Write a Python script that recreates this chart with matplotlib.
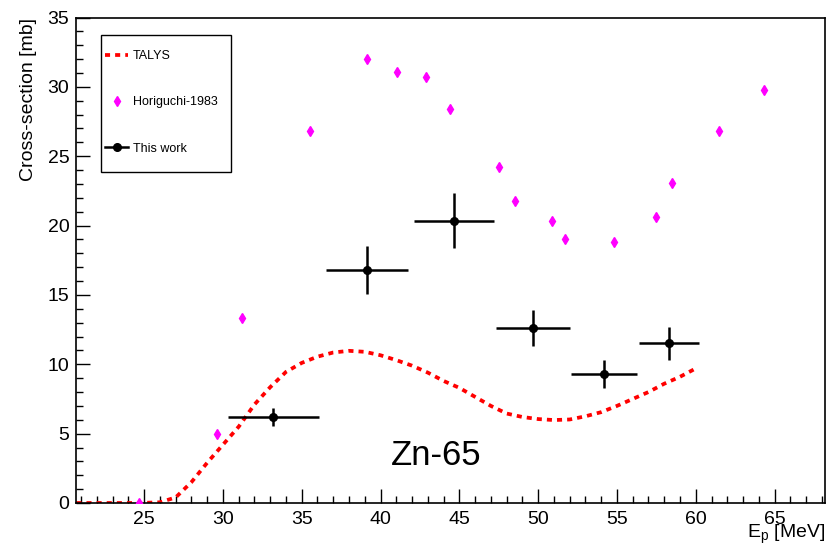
import matplotlib.pyplot as plt
from matplotlib.lines import Line2D
from matplotlib.patches import Rectangle
from matplotlib.ticker import MultipleLocator

plt.rcParams["font.family"] = ["Liberation Sans", "DejaVu Sans"]

# TALYS calculation
talys_e = [20.7, 24.7, 26.0, 27.0, 28.0, 29.0, 30.0, 31.0, 32.0, 33.0, 34.0,
           35.0, 36.0, 37.0, 38.0, 39.0, 40.0, 41.0, 42.0, 43.0, 44.0, 45.0,
           46.0, 47.0, 48.0, 49.0, 50.0, 51.0, 52.0, 53.0, 54.0, 55.0, 56.0,
           57.0, 58.0, 59.0, 60.0]
talys_xs = [0.0, 0.0, 0.05, 0.4, 1.5, 2.9, 4.2, 5.5, 7.1, 8.35, 9.45,
            10.1, 10.55, 10.85, 10.97, 10.9, 10.65, 10.3, 9.9, 9.4, 8.8, 8.3,
            7.65, 7.0, 6.45, 6.2, 6.05, 5.98, 6.02, 6.25, 6.55, 7.0, 7.5,
            8.0, 8.6, 9.1, 9.7]

# Horiguchi-1983
hori_e = [24.7, 29.6, 31.2, 35.5, 39.15, 41.05, 42.9, 44.4, 47.5, 48.5,
          50.9, 51.7, 54.8, 57.5, 58.5, 61.5, 64.3]
hori_xs = [0.0, 4.98, 13.35, 26.8, 32.0, 31.1, 30.7, 28.4, 24.2, 21.8,
           20.3, 19.0, 18.8, 20.6, 23.1, 26.8, 29.8]

# This work
work_e = [33.2, 39.15, 44.67, 49.65, 54.2, 58.3]
work_e_err = [2.9, 2.6, 2.55, 2.35, 2.1, 1.9]
work_xs = [6.2, 16.8, 20.35, 12.6, 9.3, 11.5]
work_xs_err = [0.65, 1.7, 2.0, 1.3, 1.0, 1.2]

fig = plt.figure(figsize=(8.28, 5.49), dpi=100)
ax = fig.add_axes([0.0922, 0.0838, 0.9042, 0.8843])

talys_line, = ax.plot(talys_e, talys_xs, color="#ff0000", lw=2.7,
                      linestyle=(0, (1.35, 1.35)), zorder=2)
hori_pts, = ax.plot(hori_e, hori_xs, linestyle="none", marker="d", ms=5.5,
                    color="#ff00ff", mec="#ff00ff", zorder=3)
ax.errorbar(work_e, work_xs, xerr=work_e_err, yerr=work_xs_err, fmt="o",
            color="black", ms=5.5, elinewidth=1.8, capsize=0, lw=1.8, zorder=4)

ax.text(43.5, 3.45, "Zn-65", fontsize=25, ha="center", va="center")

ax.set_xlim(20.7, 68.2)
ax.set_ylim(0, 35)
ax.xaxis.set_major_locator(MultipleLocator(5))
ax.xaxis.set_minor_locator(MultipleLocator(1))
ax.yaxis.set_major_locator(MultipleLocator(5))
ax.yaxis.set_minor_locator(MultipleLocator(1))
ax.tick_params(which="both", direction="in", top=False, right=False,
               labelsize=14, width=1)
ax.tick_params(which="major", length=10)
ax.tick_params(which="minor", length=5)
ax.tick_params(axis="x", pad=6)
ax.tick_params(axis="y", pad=5)
for sp in ax.spines.values():
    sp.set_linewidth(1.2)

ax.set_xlabel("E$_\\mathregular{p}$ [MeV]", fontsize=14, loc="right", labelpad=-4)
ax.set_ylabel("Cross-section [mb]", fontsize=14, loc="top", labelpad=8)

# legend frame drawn by hand, entries placed inside it
ax.add_patch(Rectangle((0.033, 0.6818), 0.1736, 0.2822, transform=ax.transAxes,
                       fill=False, edgecolor="black", lw=1.0, zorder=5))
work_handle = Line2D([], [], color="black", marker="o", ms=5.5, lw=1.8)
ax.legend([talys_line, hori_pts, work_handle],
          ["TALYS", "Horiguchi-1983", "This work"],
          loc="upper left", bbox_to_anchor=(0.0383, 0.933), fontsize=9,
          frameon=False, labelspacing=2.75, handlelength=1.85,
          handletextpad=0.4, borderpad=0, borderaxespad=0)

fig.savefig("out.png", dpi=100)
